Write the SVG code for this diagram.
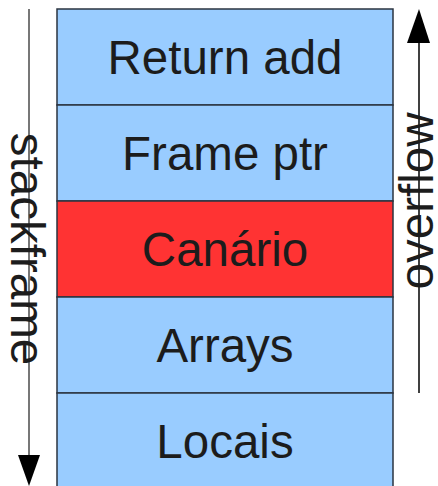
<svg xmlns="http://www.w3.org/2000/svg" width="438" height="486" viewBox="0 0 438 486">
<style>
.row{stroke:#2b3440;stroke-width:1.5}
.blue{fill:#99ccff}
.red{fill:#ff3333}
.lbl{font-family:"Liberation Sans",Arial,sans-serif;font-size:47.5px;fill:#1c1c1c;text-anchor:middle}
</style>
<rect width="438" height="486" fill="#ffffff"/>
<g id="connectors">
<line x1="29" y1="9" x2="29" y2="457" stroke="#777" stroke-width="2"/>
<polygon points="18,455 40,455 29,486" fill="#000"/>
<line x1="419" y1="42" x2="419" y2="393" stroke="#000" stroke-width="1.5"/>
<polygon points="407,43 430,43 419,9" fill="#000"/>
</g>
<g id="return">
<rect class="row blue" x="57" y="9" width="336" height="96"/>
<text class="lbl" x="225" y="74">Return add</text>
</g>
<g id="frameptr">
<rect class="row blue" x="57" y="105" width="336" height="96"/>
<text class="lbl" x="225" y="170">Frame ptr</text>
</g>
<g id="canario">
<rect class="row red" x="57" y="201" width="336" height="96"/>
<text class="lbl" x="225" y="266">Canário</text>
</g>
<g id="arrays">
<rect class="row blue" x="57" y="297" width="336" height="96"/>
<text class="lbl" x="225" y="362">Arrays</text>
</g>
<g id="locais">
<rect class="row blue" x="57" y="393" width="336" height="100"/>
<text class="lbl" x="225" y="458">Locais</text>
</g>
<g id="stackframe">
<text class="lbl" transform="translate(11,249) rotate(90)">stackframe</text>
</g>
<g id="overflow">
<text class="lbl" transform="translate(433,201) rotate(-90)">overflow</text>
</g>
</svg>
